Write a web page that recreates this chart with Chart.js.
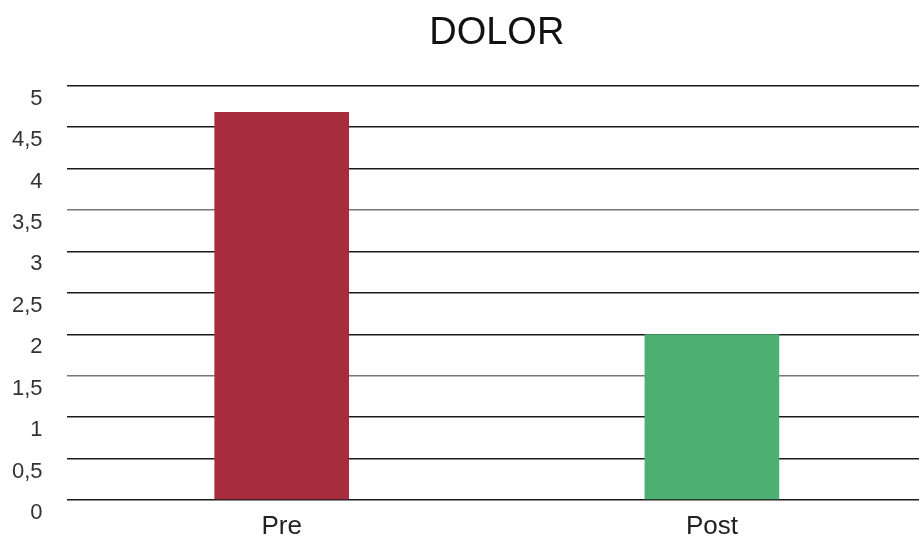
<!DOCTYPE html>
<html>
<head>
<meta charset="utf-8">
<script src="https://cdn.jsdelivr.net/npm/chart.js@4/dist/chart.umd.min.js"></script>
<style>
  html, body { margin: 0; padding: 0; background: #fff; overflow: hidden; }
  #wrap { width: 927px; height: 541px; position: relative; }
</style>
</head>
<body>
<div id="wrap"><canvas id="c"></canvas></div>
<script>
const categories = ["Pre", "Post"];
const values = [4.68, 2.0];
const barColors = ["#A62C3E", "#4DB072"];
const yTickStep = 0.5;
const yMax = 5;
const chartTitle = "DOLOR";

new Chart(document.getElementById("c"), {
  type: "bar",
  data: {
    labels: categories,
    datasets: [{
      data: values,
      backgroundColor: barColors,
      borderWidth: 0,
      barPercentage: 0.313,
      categoryPercentage: 1
    }]
  },
  options: {
    responsive: true,
    maintainAspectRatio: false,
    animation: false,
    layout: { padding: { left: -12, right: 0, top: 0, bottom: -13 } },
    plugins: {
      legend: { display: false },
      tooltip: { enabled: false },
      title: {
        display: true,
        fullSize: false,
        text: chartTitle,
        color: "#111",
        font: { family: "Liberation Sans, Arial, sans-serif", size: 38, weight: "normal" },
        padding: { top: 11, bottom: 29 }
      }
    },
    scales: {
      x: {
        grid: { display: false, drawTicks: false, tickLength: 0 },
        border: { display: false },
        ticks: {
          color: "#222",
          font: { family: "Liberation Sans, Arial, sans-serif", size: 26, lineHeight: 1.0 },
          padding: 14,
          maxRotation: 0
        }
      },
      y: {
        min: 0,
        max: yMax,
        border: { display: false },
        grid: {
          color: (ctx) => {
            const v = ctx.tick ? ctx.tick.value : null;
            return (v === 3.5 || v === 1.5) ? "#777" : "#1a1a1a";
          },
          lineWidth: 1.4,
          drawTicks: false,
          tickLength: 0
        },
        ticks: {
          stepSize: yTickStep,
          color: "#333",
          font: { family: "Liberation Sans, Arial, sans-serif", size: 22 },
          padding: 24,
          labelOffset: 13,
          callback: (v) => String(v).replace(".", ",")
        }
      }
    }
  }
});
</script>
</body>
</html>
